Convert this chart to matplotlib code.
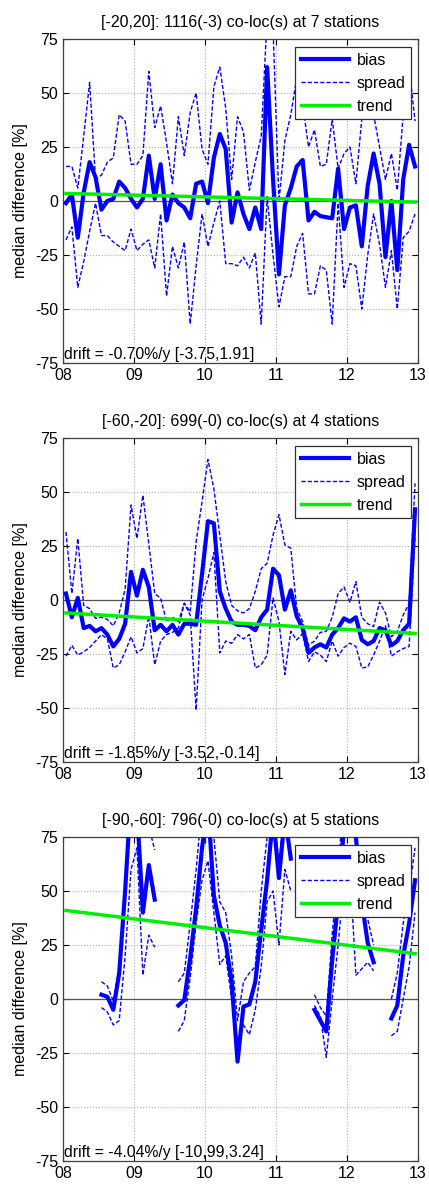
import numpy as np
import matplotlib
matplotlib.use("Agg")
import matplotlib.pyplot as plt

plt.rcParams['font.family'] = ['Liberation Sans', 'DejaVu Sans']
plt.rcParams['axes.unicode_minus'] = False

nan = np.nan
# monthly time axis (years since 2000), mid-month
months = 8 + (np.arange(60) + 0.5) / 12.0

titles = ["[-20,20]: 1116(-3) co-loc(s) at 7 stations",
          "[-60,-20]: 699(-0) co-loc(s) at 4 stations",
          "[-90,-60]: 796(-0) co-loc(s) at 5 stations"]
drift_texts = ["drift = -0.70%/y [-3.75,1.91]",
               "drift = -1.85%/y [-3.52,-0.14]",
               "drift = -4.04%/y [-10,99,3.24]"]

bias1 = [-1, 3, -17, 4, 18, 11, -4, 0, 1, 9, 6, 1, -3, 1, 21, 1, 17, -9, 3, -1,
         -3, -8, 8, 9, -1, 20, 31, 24, -10, 4, -6, -13, -3, -13, 62, 10, -34, -2, 6, 16,
         19, -9, -5, -7, -7.5, -8, 15, -13, -3, -2, -21, 7, 22, 8, -26, 0, -32, 10, 26, 16]
upper1 = [16, 16, 6, 30, 55, 10, 12, 18, 20, 40, 37, 17, 17, 21, 60, 34, 44, 27, 8, 39,
          21, 41, 50, 24, 17, 53, 62, 43, 10, 39, 32, 5, 18, 30, 85, 80, 0, 28, 40, 57,
          45, 25, 33, 16, 17, 38, 15, 22, 25, 8, 38, 60, 40, 25, 10, 22, 5, 40, 62, 37]
lower1 = [-18, -12, -40, -28, -14, -1, -16, -16, -19, -21, -23, -13, -23, -20, -18, -31, -6, -44, -21, -31,
          -19, -57, -30, -6, -21, -10, 0, -29, -29, -30, -26, -31, -24, -57, 2, -25, -49, -35, -35, -21,
          -15, -43, -43, -30, -32, -57, -1, -40, -29, -30, -50, -25, -6, -20, -40, -23, -50, -17, -14, -6]
trend1 = [3.5, -0.5]

bias2 = [3, -8, 1, -13, -12, -14.5, -13, -16, -21.5, -18, -11, 13, 2, 14, 6, -14, -11.5, -14.5, -11.5, -16,
         -11, -11, -11.5, 12, 36.5, 35.5, 4, -4, -10, -11.5, -11.5, -12, -14, -8, -4.5, 14.5, 11.5, -4.5, 4.5, -7.5,
         -13, -24.5, -22, -20.5, -22, -16, -13, -8.5, -10, -8, -18.5, -20.5, -19, -13, -14, -21, -19, -14, -11, 42]
upper2 = [31.5, 3, 28.5, -2.5, -4, -8.5, -8, -9, -12, -6, 5, 44, 28.5, 48.5, 26, 3, 0.8, -10, -8, -10,
          -1.5, -5.5, 27, 45.5, 65, 51.5, 30, 8.5, -2.5, -5, -6, -4, 4, 14.5, 17, 30, 39.5, 25.5, 24, -4,
          -10, -21, -19, -15, -14.5, -8, 3, 6, -1, 8.5, -8, -11, -12.3, -1, -6, -17, -14.5, -7, -1.5, 54]
lower2 = [-26, -21, -25.5, -24, -22, -19, -16, -18, -31.5, -30, -24, -17, -24.5, -22.5, -7.5, -30, -19, -16, -15, -13,
          -1.5, -7, -51, 0, 10, 22, -24.5, -19, -20, -16, -18, -16, -31.5, -30, -25.5, 1, -10, -34.5, -14.5, -18.5,
          -15.5, -28.5, -24, -25.5, -28.5, -19, -26, -22, -20, -21.5, -31.5, -31, -25.5, -19, -12, -26, -24, -22.5, -21.5, 30]
trend2 = [-6, -15.5]

bias3 = [nan, nan, nan, nan, nan, nan, 2, 1, -5, 12, 50, 95, 88, 40, 62, 46, nan, nan, nan, -3,
         -0.5, 19, 42, 70, 90, 48, 34, 26, 8, -29, -3.5, -2.5, 8, 32, 55, 85, 56, 85, 65, nan,
         nan, nan, -5, -10, -15, 18, 45, 80, 85, 75, 45, 26, 17, nan, nan, -9, -3, 20, 35, 55]
upper3 = [nan, nan, nan, nan, nan, nan, 8, 6, -1, 15, 45, 95, 95, 95, 80, 69, nan, nan, nan, 8,
          12, 35, 60, 90, 95, 75, 45, 40, 20, -10, 8, 12, 15, 50, 75, 90, 62, 90, 90, nan,
          nan, nan, 2, -4, -8, 30, 60, 95, 95, 72, 55, 37, 25, nan, nan, 0, 12, 35, 50, 70]
lower3 = [nan, nan, nan, nan, nan, nan, -4, -6, -12, -10, 20, 60, 70, 11, 29.5, 24, nan, nan, nan, -15,
          -10, 10, 35, 55, 64, 40, 16, 20, 0, -20, -12, -16.5, -5, 15, 45, 50, 25, 60, 50, nan,
          nan, nan, -3, -8, -27, 0, 25, 55, 60, 11, 14, 17, 13, nan, nan, -17, -15, 0, 15, 40]
trend3 = [41, 21]

xticks = [8, 9, 10, 11, 12, 13]
xticklabels = ["08", "09", "10", "11", "12", "13"]
yticks = [-75, -50, -25, 0, 25, 50, 75]

panels = [(bias1, upper1, lower1, trend1),
          (bias2, upper2, lower2, trend2),
          (bias3, upper3, lower3, trend3)]

fig = plt.figure(figsize=(4.29, 11.86), dpi=100)
left = 63 / 429
width = 355 / 429
tops = [39, 438, 837]
height_px = 324

for k, (b, u, l, tr) in enumerate(panels):
    bottom = 1 - (tops[k] + height_px) / 1186
    ax = fig.add_axes([left, bottom, width, height_px / 1186])
    ax.axhline(0, color='#555555', lw=0.9, zorder=1)
    lb, = ax.plot(months, b, color='#0000ff', lw=3.0, zorder=3, label='bias')
    ls, = ax.plot(months, u, color='#0000ff', lw=1.0, ls=(0, (3, 1.5)), zorder=2, label='spread')
    ax.plot(months, l, color='#0000ff', lw=1.0, ls=(0, (3, 1.5)), zorder=2)
    lt, = ax.plot([months[0], months[-1]], tr, color='#00ee00', lw=2.5, zorder=4, label='trend')
    ax.set_xlim(8, 13)
    ax.set_ylim(-75, 75)
    ax.set_xticks(xticks)
    ax.set_xticklabels(xticklabels)
    ax.set_yticks(yticks)
    ax.grid(True, ls=':', color='#b0b0b0', lw=0.8)
    ax.set_axisbelow(True)
    ax.tick_params(direction='in', top=True, right=True, length=4, labelsize=11.5, width=0.8)
    for s in ax.spines.values():
        s.set_color('#404040')
        s.set_linewidth(0.9)
    ax.set_title(titles[k], fontsize=11.5, pad=9)
    ax.set_ylabel("median difference [%]", fontsize=11.5, labelpad=5)
    ax.text(0.003, 0.002, drift_texts[k], transform=ax.transAxes, ha='left', va='bottom',
            fontsize=11.3, zorder=6)
    leg = ax.legend(handles=[lb, ls, lt], loc='upper right', fontsize=11.5,
                    handlelength=3.0, frameon=True, fancybox=False, framealpha=1,
                    edgecolor='#303030', borderpad=0.35, labelspacing=0.5,
                    handletextpad=0.5, borderaxespad=0,
                    bbox_to_anchor=(1 - 7 / 355, 1 - 8 / 324))
    leg.get_frame().set_linewidth(0.9)
    leg.set_zorder(10)

fig.savefig("out.png", dpi=100)
